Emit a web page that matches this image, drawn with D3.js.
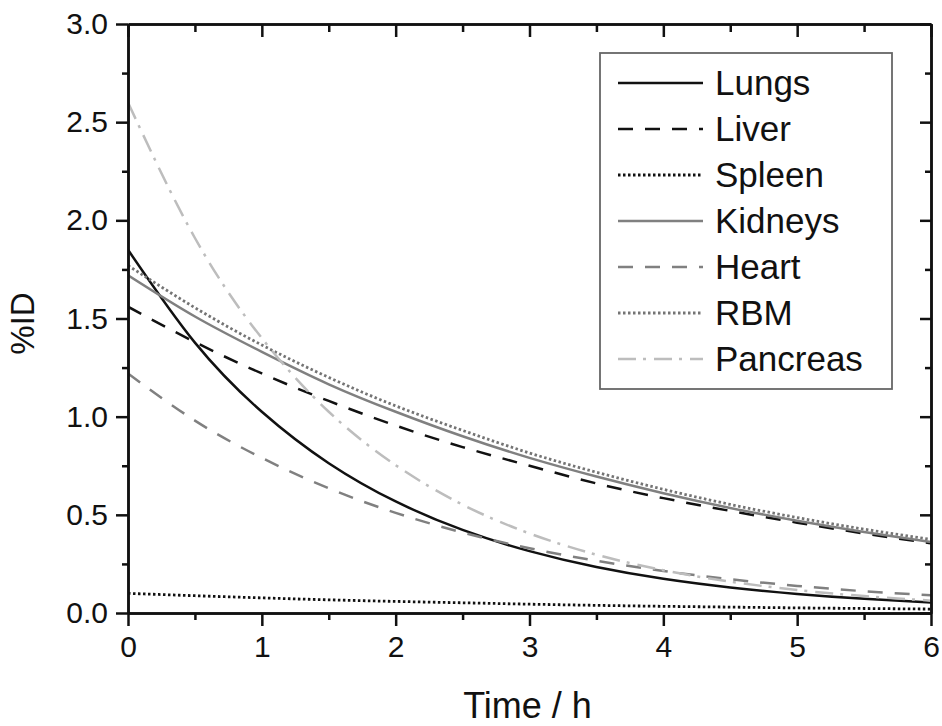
<!DOCTYPE html>
<html>
<head>
<meta charset="utf-8">
<script src="https://cdn.jsdelivr.net/npm/d3@7"></script>
<style>
body { margin: 0; background: #fff; }
text { font-family: "Liberation Sans", Arial, sans-serif; fill: #111; }
</style>
</head>
<body>
<div id="chart"></div>
<script>
// time points (h) and %ID per organ
var times = [0, 0.5, 1, 1.5, 2, 2.5, 3, 3.5, 4, 4.5, 5, 5.5, 6];
var lungs    = [1.85, 1.377, 1.025, 0.763, 0.568, 0.423, 0.315, 0.234, 0.174, 0.130, 0.097, 0.072, 0.054];
var liver    = [1.56, 1.38, 1.22, 1.08, 0.955, 0.845, 0.75, 0.66, 0.585, 0.52, 0.46, 0.405, 0.355];
var spleen   = [0.10, 0.088, 0.077, 0.067, 0.059, 0.052, 0.045, 0.039, 0.034, 0.030, 0.026, 0.023, 0.020];
var kidneys  = [1.72, 1.51, 1.33, 1.165, 1.025, 0.90, 0.79, 0.695, 0.61, 0.535, 0.47, 0.413, 0.362];
var heart    = [1.22, 0.98, 0.79, 0.635, 0.51, 0.41, 0.33, 0.266, 0.214, 0.172, 0.138, 0.111, 0.09];
var rbm      = [1.77, 1.555, 1.365, 1.20, 1.055, 0.93, 0.815, 0.717, 0.63, 0.553, 0.486, 0.427, 0.375];
var pancreas = [2.60, 1.91, 1.40, 1.025, 0.753, 0.552, 0.405, 0.297, 0.218, 0.160, 0.117, 0.086, 0.063];

var xTicks = [0, 1, 2, 3, 4, 5, 6];
var yTicks = [0, 0.5, 1.0, 1.5, 2.0, 2.5, 3.0];

var series = [
    {name: "Lungs",    values: lungs,    color: "#111",    dash: null,        width: 2.5},
    {name: "Liver",    values: liver,    color: "#111",    dash: "15,12",     width: 2.5},
    {name: "Spleen",   values: spleen,   color: "#111",    dash: "2.5,2.5",   width: 2.8},
    {name: "Kidneys",  values: kidneys,  color: "#808080", dash: null,        width: 2.5},
    {name: "Heart",    values: heart,    color: "#808080", dash: "15,12",     width: 2.5},
    {name: "RBM",      values: rbm,      color: "#747474", dash: "2.5,2.5",   width: 2.8},
    {name: "Pancreas", values: pancreas, color: "#bdbdbd", dash: "18,7,3,8",  width: 2.5}
];

var margin = {top: 24, right: 11, bottom: 113, left: 128};
var width = 942 - margin.left - margin.right;
var height = 726 - margin.top - margin.bottom;

var svg = d3.select("#chart")
    .append("svg")
    .attr("width", 942)
    .attr("height", 726)
    .append("g")
    .attr("transform", "translate(" + margin.left + "," + margin.top + ")");

var x = d3.scaleLinear().domain([0, 6]).range([0, width]);
var y = d3.scaleLinear().domain([0, 3]).range([height, 0]);

svg.append("clipPath").attr("id", "clip")
    .append("rect").attr("width", width).attr("height", height);

// curves
var line = d3.line()
    .x(function(d) { return x(d.t); })
    .y(function(d) { return y(d.v); })
    .curve(d3.curveNatural);

series.forEach(function(s) {
    var pts = times.map(function(t, i) { return {t: t, v: s.values[i]}; });
    svg.append("path")
        .datum(pts)
        .attr("clip-path", "url(#clip)")
        .attr("fill", "none")
        .attr("stroke", s.color)
        .attr("stroke-width", s.width)
        .attr("stroke-dasharray", s.dash)
        .attr("d", line);
});

// axes: major + minor ticks, outward on bottom/left, inward on top/right
var minorX = d3.range(0.5, 6, 1);
var minorY = d3.range(0.25, 3, 0.5);

function styleAxis(g) {
    g.selectAll("path, line").attr("stroke", "#111").attr("stroke-width", 2.5);
    g.selectAll("text").attr("font-size", 30).attr("fill", "#111")
        .style("font-family", "'Liberation Sans', Arial, sans-serif");
}

svg.append("g")
    .attr("transform", "translate(0," + height + ")")
    .call(d3.axisBottom(x).tickValues(xTicks).tickFormat(d3.format("d")).tickSizeInner(13).tickSizeOuter(0).tickPadding(10))
    .call(styleAxis);
svg.append("g")
    .attr("transform", "translate(0," + height + ")")
    .call(d3.axisBottom(x).tickValues(minorX).tickFormat("").tickSizeInner(7).tickSizeOuter(0))
    .call(styleAxis);

svg.append("g")
    .call(d3.axisLeft(y).tickValues(yTicks).tickFormat(d3.format(".1f")).tickSizeInner(12).tickSizeOuter(0).tickPadding(8))
    .call(styleAxis);
svg.append("g")
    .call(d3.axisLeft(y).tickValues(minorY).tickFormat("").tickSizeInner(6).tickSizeOuter(0))
    .call(styleAxis);

svg.append("g")
    .call(d3.axisTop(x).tickValues(xTicks).tickFormat("").tickSizeInner(-13).tickSizeOuter(0))
    .call(styleAxis);
svg.append("g")
    .call(d3.axisTop(x).tickValues(minorX).tickFormat("").tickSizeInner(-8).tickSizeOuter(0))
    .call(styleAxis);

svg.append("g")
    .attr("transform", "translate(" + width + ",0)")
    .call(d3.axisRight(y).tickValues(yTicks).tickFormat("").tickSizeInner(-11).tickSizeOuter(0))
    .call(styleAxis);
svg.append("g")
    .attr("transform", "translate(" + width + ",0)")
    .call(d3.axisRight(y).tickValues(minorY).tickFormat("").tickSizeInner(-6).tickSizeOuter(0))
    .call(styleAxis);

// axis titles
svg.append("text")
    .attr("x", width / 2 - 2)
    .attr("y", height + 105)
    .attr("text-anchor", "middle")
    .attr("font-size", 36)
    .text("Time / h");

svg.append("text")
    .attr("transform", "translate(" + (34 - margin.left) + "," + (y(1.5) + 5) + ") rotate(-90)")
    .attr("text-anchor", "middle")
    .attr("font-size", 33)
    .text("%ID");

// legend
var legend = svg.append("g")
    .attr("transform", "translate(" + (600 - margin.left) + "," + (53 - margin.top) + ")");

legend.append("rect")
    .attr("width", 292)
    .attr("height", 336)
    .attr("fill", "#fff")
    .attr("stroke", "#666")
    .attr("stroke-width", 1.8);

series.forEach(function(s, i) {
    var ly = 30 + i * 46;
    legend.append("line")
        .attr("x1", 18).attr("x2", 103)
        .attr("y1", ly).attr("y2", ly)
        .attr("stroke", s.color)
        .attr("stroke-width", s.width)
        .attr("stroke-dasharray", s.dash);
    legend.append("text")
        .attr("x", 115)
        .attr("y", ly + 12)
        .attr("font-size", 35)
        .text(s.name);
});
</script>
</body>
</html>
